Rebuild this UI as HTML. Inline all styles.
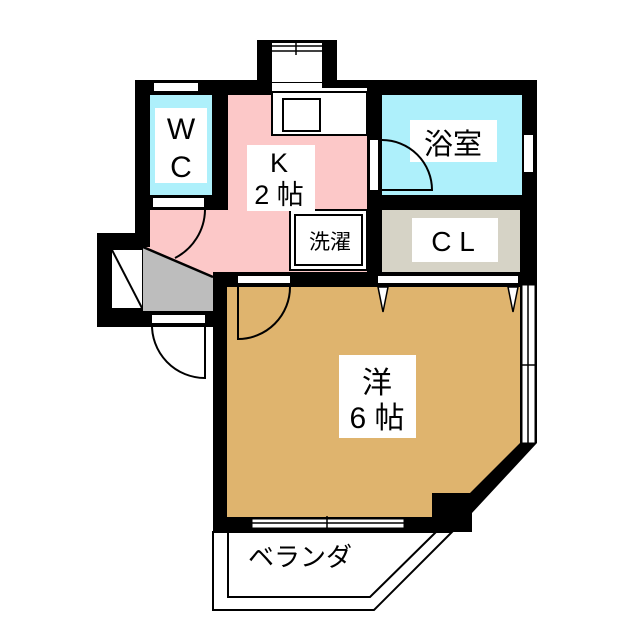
<!DOCTYPE html>
<html><head><meta charset="utf-8"><style>html,body{margin:0;padding:0;background:#fff}svg{display:block}</style></head>
<body>
<svg width="640" height="640" viewBox="0 0 640 640" xmlns="http://www.w3.org/2000/svg" font-family="'Liberation Sans','Noto Sans CJK JP',sans-serif">
<polygon points="213,532 452,532 374,610 213,610" fill="#fff" stroke="#000" stroke-width="2"/>
<polyline points="228,532 228,597 370,597 436,532" fill="none" stroke="#000" stroke-width="2"/>
<rect x="135" y="80" width="402" height="207" fill="#000"/>
<rect x="257" y="40" width="80" height="45" fill="#000"/>
<rect x="97" y="233" width="130" height="94" fill="#000"/>
<polygon points="213,272 537,272 537,443 472,513 472,532 213,532" fill="#000"/>
<rect x="272" y="43" width="50" height="39" fill="#fff"/>
<line x1="272" y1="46" x2="322" y2="46" stroke="#000" stroke-width="1.5"/>
<line x1="272" y1="51" x2="322" y2="51" stroke="#000" stroke-width="1.5"/>
<line x1="296" y1="42" x2="296" y2="55" stroke="#000" stroke-width="1.5"/>
<rect x="272" y="83" width="50" height="5" fill="#fff"/>
<rect x="150" y="95" width="62" height="100" fill="#aef0fb"/>
<rect x="155" y="108" width="52" height="75" fill="#fff"/>
<rect x="154" y="83" width="44" height="8" fill="#fff"/>
<rect x="153" y="198" width="51" height="9" fill="#fff"/>
<polygon points="228,95 367,95 367,272 213,272 213,277 143,247 150,247 150,210 228,210" fill="#fcc8c8"/>
<rect x="150" y="210" width="78" height="40" fill="#fcc8c8"/>
<polygon points="143,247 213,277 213,311 143,311" fill="#bdbdbd"/>
<line x1="143" y1="247" x2="213" y2="277" stroke="#000" stroke-width="2.5"/>
<path d="M205,210 A55,55 0 0 1 175,258" fill="none" stroke="#000" stroke-width="2"/>
<rect x="272" y="92" width="95" height="43" fill="#fff" stroke="#000" stroke-width="2"/>
<rect x="283" y="99" width="37" height="32" fill="#fff" stroke="#000" stroke-width="2"/>
<rect x="272" y="88" width="95" height="3" fill="#fff"/>
<rect x="290" y="210" width="77" height="60" fill="#fff" stroke="#000" stroke-width="2"/>
<rect x="295" y="215" width="67" height="50" fill="#fff" stroke="#000" stroke-width="2"/>
<rect x="382" y="95" width="140" height="100" fill="#aef0fb"/>
<rect x="410" y="120" width="87" height="42" fill="#fff"/>
<rect x="370" y="140" width="8" height="50" fill="#fff"/>
<rect x="524" y="135" width="9" height="37" fill="#fff"/>
<path d="M382,140 A50,50 0 0 1 432,190 L382,190" fill="none" stroke="#000" stroke-width="2"/>
<rect x="382" y="210" width="138" height="62" fill="#d6d3c6"/>
<rect x="412" y="218" width="86" height="44" fill="#fff"/>
<rect x="112" y="250" width="30" height="58" fill="#fff"/>
<line x1="112" y1="250" x2="142" y2="308" stroke="#000" stroke-width="2"/>
<rect x="152" y="315" width="53" height="8" fill="#fff"/>
<path d="M205,323 L205,378 A53,53 0 0 1 152,323" fill="none" stroke="#000" stroke-width="2"/>
<polygon points="227,287 520,287 520,443 470,493 432,493 432,517 227,517" fill="#dfb46e"/>
<rect x="238" y="276" width="52" height="7" fill="#fff"/>
<rect x="378" y="276" width="140" height="7" fill="#fff"/>
<path d="M290,287 A52,52 0 0 1 238,339 L238,287" fill="none" stroke="#000" stroke-width="2"/>
<polygon points="378,287 388,287 383,312" fill="#fff" stroke="#000" stroke-width="1.5"/>
<polygon points="508,287 518,287 513,312" fill="#fff" stroke="#000" stroke-width="1.5"/>
<rect x="522" y="285" width="13" height="158" fill="#fff" stroke="#000" stroke-width="1"/>
<line x1="528" y1="285" x2="528" y2="443" stroke="#000" stroke-width="1.5"/>
<line x1="520" y1="365" x2="537" y2="365" stroke="#000" stroke-width="1.5"/>
<rect x="252" y="519" width="152" height="9" fill="#fff" stroke="#000" stroke-width="1"/>
<line x1="252" y1="523" x2="404" y2="523" stroke="#000" stroke-width="1.5"/>
<line x1="327" y1="516" x2="327" y2="531" stroke="#000" stroke-width="1.5"/>
<rect x="339" y="355" width="77" height="83" fill="#fff"/>
<rect x="247" y="145" width="68" height="66" fill="#fff"/>
<g fill="#000" text-anchor="middle">
<text x="181" y="139" font-size="30">W</text>
<text x="181" y="177" font-size="30">C</text>
<text x="279" y="172" font-size="27">K</text>
<text x="279" y="204" font-size="27">2 帖</text>
<text x="453" y="154" font-size="29">浴室</text>
<text x="453" y="251" font-size="28">C L</text>
<text x="330" y="249" font-size="21">洗濯</text>
<text x="377" y="393" font-size="30">洋</text>
<text x="377" y="428" font-size="30">6 帖</text>
<text x="300" y="566" font-size="26">ベランダ</text>
</g>
</svg>
</body></html>
